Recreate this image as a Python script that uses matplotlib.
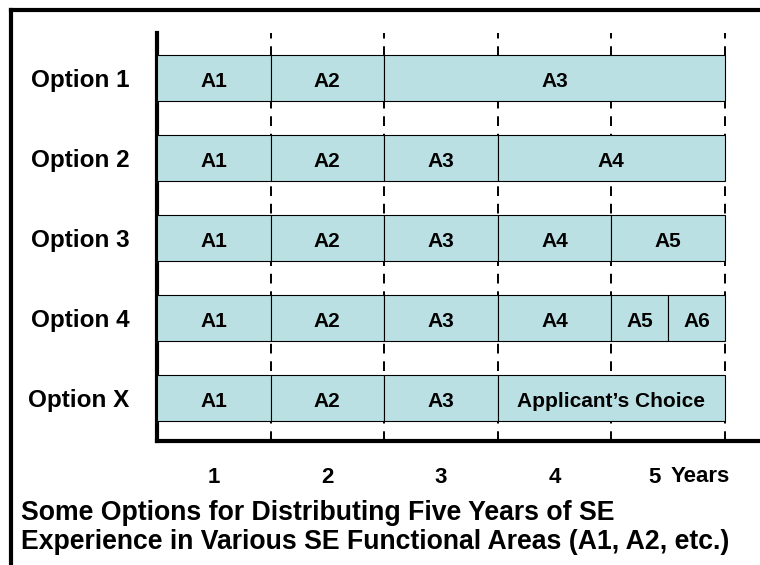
import matplotlib.pyplot as plt
import matplotlib.transforms as mtransforms
from matplotlib.lines import Line2D

options = ['Option 1', 'Option 2', 'Option 3', 'Option 4', 'Option X']

# (label, start year, length in years) for every option
segments = [
    [('A1', 0, 1), ('A2', 1, 1), ('A3', 2, 3)],
    [('A1', 0, 1), ('A2', 1, 1), ('A3', 2, 1), ('A4', 3, 2)],
    [('A1', 0, 1), ('A2', 1, 1), ('A3', 2, 1), ('A4', 3, 1), ('A5', 4, 1)],
    [('A1', 0, 1), ('A2', 1, 1), ('A3', 2, 1), ('A4', 3, 1), ('A5', 4, 0.5), ('A6', 4.5, 0.5)],
    [('A1', 0, 1), ('A2', 1, 1), ('A3', 2, 1), ('Applicant\u2019s Choice', 3, 2)],
]

year_labels = ['1', '2', '3', '4', '5']
title_lines = ['Some Options for Distributing Five Years of SE',
               'Experience in Various SE Functional Areas (A1, A2, etc.)']

W, H = 760, 565
plt.rcParams['font.family'] = ['Liberation Sans', 'DejaVu Sans']
plt.rcParams['font.weight'] = 'bold'

fig = plt.figure(figsize=(W / 100, H / 100), dpi=100)
ax = fig.add_axes([157 / W, 1 - 441 / H, (760 - 157) / W, (441 - 33) / H])

bar_color = '#bbe0e3'
for i, segs in enumerate(segments):
    for label, start, length in segs:
        ax.barh(i, length, left=start, height=0.575, color=bar_color,
                edgecolor='black', linewidth=0.8, zorder=3)
        ax.text(start + length / 2, i + 0.11, label, ha='center', va='baseline',
                fontsize=15, fontweight='bold', zorder=4)

for yr in range(1, 6):
    ax.axvline(yr, color='black', linewidth=1.4, linestyle=(0, (5, 4)), zorder=2)

ax.set_xlim(0, 5.31)
ax.set_ylim(4.5375, -0.5625)

ax.set_yticks(range(len(options)))
ax.set_yticklabels(options, fontsize=17.5, fontweight='bold')
ax.tick_params(axis='y', length=0, pad=20)

ax.set_xticks([i + 0.5 for i in range(5)])
ax.set_xticklabels(year_labels, fontsize=16, fontweight='bold')
ax.tick_params(axis='x', length=0, pad=19)
# the last year label sits a little left, leaving room for "Years"
last = ax.get_xticklabels()[-1]
last.set_transform(last.get_transform() + mtransforms.ScaledTranslation(-0.14, 0, fig.dpi_scale_trans))

for side in ['top', 'right']:
    ax.spines[side].set_visible(False)
for side in ['left', 'bottom']:
    ax.spines[side].set_linewidth(3)
    ax.spines[side].set_color('black')

fig.text(671 / W, 1 - 477 / H, 'Years', fontsize=16, fontweight='bold', va='center')

# slide frame: top and left edges
fig.add_artist(Line2D([11 / W, 1], [1 - 10 / H, 1 - 10 / H], color='black', linewidth=3))
fig.add_artist(Line2D([11 / W, 11 / W], [0, 1 - 10 / H], color='black', linewidth=3))

fig.text(21 / W, 1 - 513 / H, title_lines[0], fontsize=19.2, fontweight='bold', va='center')
fig.text(21 / W, 1 - 542 / H, title_lines[1], fontsize=19.2, fontweight='bold', va='center')

fig.savefig('out.png', dpi=100)
